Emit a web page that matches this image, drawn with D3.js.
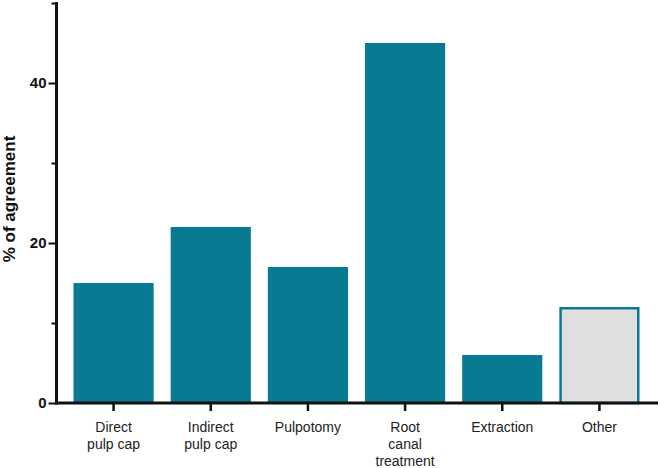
<!DOCTYPE html>
<html><head><meta charset="utf-8">
<script src="https://cdn.jsdelivr.net/npm/d3@7"></script>
<style>body{margin:0;background:#fff}svg{display:block}</style>
</head><body>
<script>
const categories = [["Direct","pulp cap"],["Indirect","pulp cap"],["Pulpotomy"],["Root","canal","treatment"],["Extraction"],["Other"]];
const values = [15, 22, 17, 45, 6, 12];
const yMajorTicks = [0, 20, 40];
const yMinorTicks = [10, 30, 50];
const yTitle = "% of agreement";

const W = 661, H = 468;
const teal = "#087b93";
const svg = d3.select("body").append("svg").attr("width", W).attr("height", H);

const keys = categories.map(c => c.join(" "));
const x = d3.scaleBand().domain(keys).range([65, 648]).paddingInner(0.175).paddingOuter(0.0875);
const y = d3.scaleLinear().domain([0, 50]).range([403, 3]);

// bars
svg.selectAll("rect.bar").data(values).enter().append("rect")
  .attr("class","bar")
  .attr("x", (d,i) => x(keys[i]) + (i===5 ? 1.25 : 0))
  .attr("width", (d,i) => x.bandwidth() - (i===5 ? 2.5 : 0))
  .attr("y", (d,i) => y(d) + (i===5 ? 1.25 : 0))
  .attr("height", (d,i) => y(0) - y(d) - (i===5 ? 1.25 : 0))
  .attr("fill", (d,i) => i===5 ? "#dfdfdf" : teal)
  .attr("stroke", (d,i) => i===5 ? teal : "none")
  .attr("stroke-width", 2.5);

// y axis
const axX = 56.5;
const yAxis = d3.axisLeft(y).tickValues(yMajorTicks).tickSize(8).tickPadding(2).tickSizeOuter(0);
const gy = svg.append("g").attr("transform", `translate(${axX},0)`).call(yAxis);
gy.select(".domain").remove();
gy.selectAll(".tick line").attr("stroke","#111").attr("stroke-width",2);
gy.selectAll(".tick text").attr("fill","#111").style("font","bold 15px 'Liberation Sans', Arial, sans-serif");
const gyMinor = svg.append("g").attr("transform", `translate(${axX},0)`)
  .call(d3.axisLeft(y).tickValues(yMinorTicks).tickSize(5).tickFormat(""));
gyMinor.select(".domain").remove();
gyMinor.selectAll(".tick line").attr("stroke","#111").attr("stroke-width",2);
svg.append("line").attr("x1",axX).attr("x2",axX).attr("y1",y(50)-1).attr("y2",y(0)+1.5)
  .attr("stroke","#111").attr("stroke-width",3);

// x axis
const gx = svg.append("g").attr("transform", `translate(0,${y(0)})`)
  .call(d3.axisBottom(x).tickSize(8).tickFormat("").tickSizeOuter(0));
gx.select(".domain").remove();
gx.selectAll(".tick line").attr("stroke","#111").attr("stroke-width",2.5);
svg.append("line").attr("x1",axX-1.5).attr("x2",658).attr("y1",y(0)).attr("y2",y(0))
  .attr("stroke","#111").attr("stroke-width",3);

// x labels
categories.forEach((lines, i) => {
  const t = svg.append("text")
    .attr("x", x(keys[i]) + x.bandwidth()/2)
    .attr("y", 432)
    .attr("text-anchor","middle")
    .attr("fill","#222")
    .style("font","14px 'Liberation Sans', Arial, sans-serif");
  lines.forEach((l, j) => {
    t.append("tspan").attr("x", x(keys[i]) + x.bandwidth()/2).attr("dy", j===0 ? 0 : 17).text(l);
  });
});

// y title
svg.append("text")
  .attr("transform", `translate(15,199) rotate(-90)`)
  .attr("text-anchor","middle")
  .attr("fill","#111")
  .style("font","bold 17px 'Liberation Sans', Arial, sans-serif")
  .text(yTitle);
</script>
</body></html>
